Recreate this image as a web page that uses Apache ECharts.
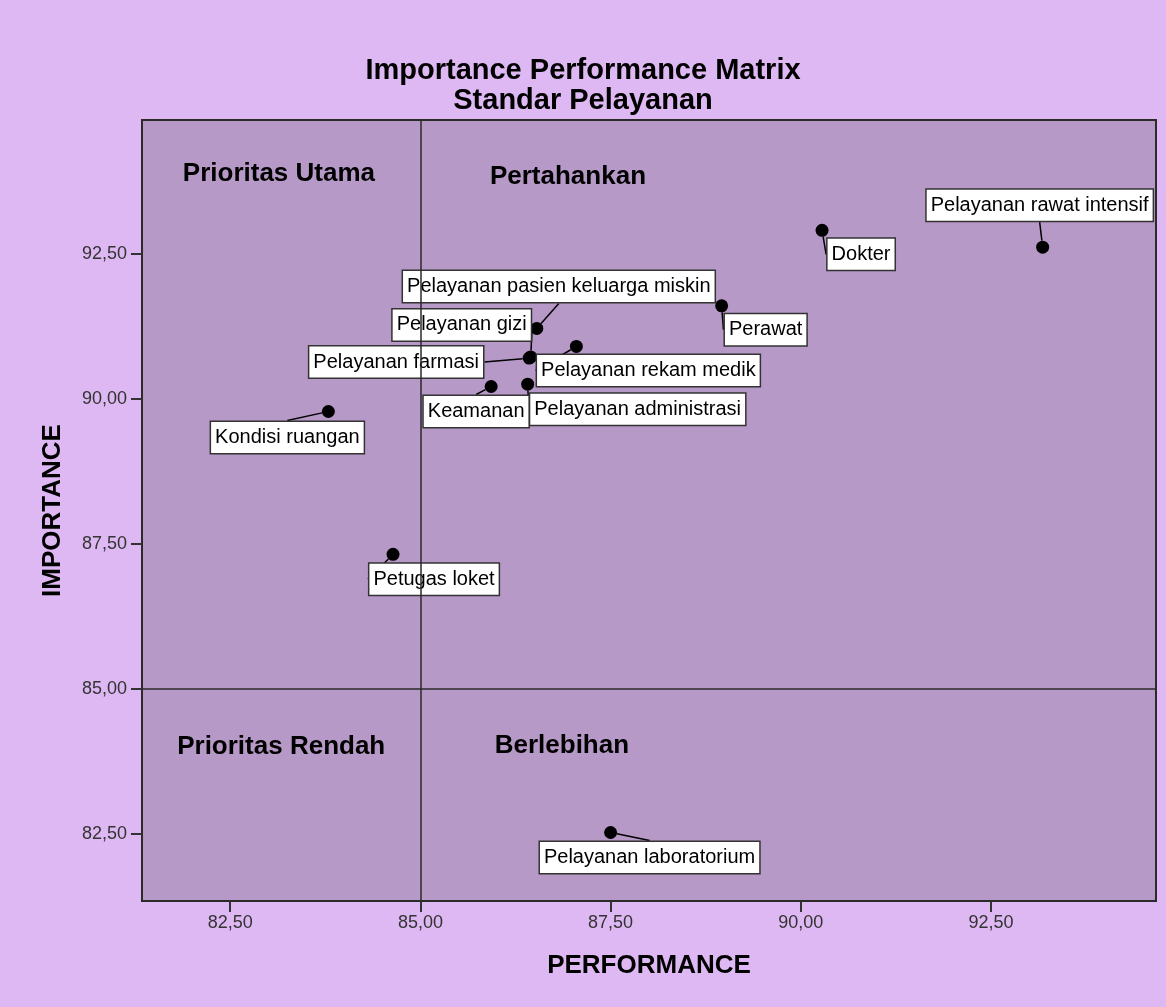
<!DOCTYPE html>
<html>
<head>
<meta charset="utf-8">
<title>Importance Performance Matrix</title>
<script src="https://cdn.jsdelivr.net/npm/echarts/dist/echarts.min.js"></script>
<style>
  html, body { margin: 0; padding: 0; background: #ffffff; }
  #main { width: 1166px; height: 1007px; }
</style>
</head>
<body>
<div id="main"></div>
<script>
// indikator pelayanan (nama, performance, importance)
var itemNames = [
    'Pelayanan rawat intensif',
    'Dokter',
    'Perawat',
    'Pelayanan pasien keluarga miskin',
    'Pelayanan gizi',
    'Pelayanan farmasi',
    'Pelayanan rekam medik',
    'Keamanan',
    'Pelayanan administrasi',
    'Kondisi ruangan',
    'Petugas loket',
    'Pelayanan laboratorium'
];
var performance = [93.18, 90.28, 88.96, 86.53, 86.45, 86.43, 87.05, 85.93, 86.41, 83.79, 84.64, 87.50];
var importance  = [92.61, 92.90, 91.60, 91.21, 90.72, 90.70, 90.90, 90.21, 90.25, 89.78, 87.32, 82.53];

// label kuadran
var quadrantNames = ['Prioritas Utama', 'Pertahankan', 'Prioritas Rendah', 'Berlebihan'];
var quadrantX = [83.14, 86.94, 83.17, 86.86];
var quadrantY = [93.87, 93.82, 84.00, 84.02];

// garis batas kuadran dan tick sumbu
var cutX = 85;
var cutY = 85;
var xTicks = [82.5, 85, 87.5, 90, 92.5];
var yTicks = [82.5, 85, 87.5, 90, 92.5];

// geser label (pixel) supaya tidak tumpang tindih
var labelOffsets = [
    [-3, -42], [39, 24], [44, 24], [22, -42], [-69, -32], [-133, 4],
    [72, 24], [-15, 25], [110, 25], [-41, 26], [41, 25], [39, 25]
];

var myChart = echarts.init(document.getElementById('main'));

var fmt = function (v) {
    return v.toFixed(2).replace('.', ',');
};

var pointData = itemNames.map(function (n, i) {
    return { name: n, value: [performance[i], importance[i]] };
});
var quadData = quadrantNames.map(function (n, i) {
    return { name: n, value: [quadrantX[i], quadrantY[i]] };
});

var font = 'Liberation Sans, Arial, sans-serif';

var option = {
    backgroundColor: '#DEB8F2',
    animation: false,
    title: {
        text: 'Importance Performance Matrix\nStandar Pelayanan',
        left: 'center',
        top: 51,
        textStyle: {
            fontFamily: font,
            fontSize: 29,
            fontWeight: 'bold',
            lineHeight: 30,
            color: '#000'
        }
    },
    grid: {
        left: 142,
        right: 10,
        top: 120,
        bottom: 106,
        show: true,
        backgroundColor: '#B799C7',
        borderColor: '#2a2a2a',
        borderWidth: 2
    },
    xAxis: {
        type: 'value',
        min: 81.34,
        max: 94.67,
        name: 'PERFORMANCE',
        nameLocation: 'middle',
        nameGap: 52,
        nameTextStyle: { fontFamily: font, fontSize: 26, fontWeight: 'bold', color: '#000' },
        splitLine: { show: false },
        axisLine: { show: false },
        axisTick: { show: true, length: 11, customValues: xTicks, lineStyle: { color: '#333', width: 2 } },
        axisLabel: {
            customValues: xTicks,
            margin: 13,
            fontFamily: font,
            fontSize: 18,
            color: '#333',
            formatter: fmt
        }
    },
    yAxis: {
        type: 'value',
        min: 81.35,
        max: 94.80,
        name: 'IMPORTANCE',
        nameLocation: 'middle',
        nameGap: 76,
        nameTextStyle: { fontFamily: font, fontSize: 26, fontWeight: 'bold', color: '#000' },
        splitLine: { show: false },
        axisLine: { show: false },
        axisTick: { show: true, length: 11, customValues: yTicks, lineStyle: { color: '#333', width: 2 } },
        axisLabel: {
            customValues: yTicks,
            margin: 15,
            fontFamily: font,
            fontSize: 18,
            color: '#333',
            formatter: fmt
        }
    },
    series: [
        {
            name: 'Kuadran',
            type: 'scatter',
            symbolSize: 0,
            silent: true,
            z: 1,
            itemStyle: { opacity: 1 },
            label: {
                show: true,
                position: 'inside',
                formatter: '{b}',
                fontFamily: font,
                fontSize: 26,
                fontWeight: 'bold',
                color: '#000'
            },
            data: quadData
        },
        {
            name: 'Indikator',
            type: 'scatter',
            symbolSize: 13,
            z: 3,
            itemStyle: { color: '#000', opacity: 1 },
            label: {
                show: true,
                position: 'inside',
                formatter: '{b}',
                fontFamily: font,
                fontSize: 20,
                color: '#000',
                backgroundColor: '#fff',
                borderColor: '#333',
                borderWidth: 1.5,
                padding: [6, 4, 5, 4]
            },
            labelLine: {
                show: true,
                lineStyle: { color: '#000', width: 1.5 }
            },
            labelLayout: function (params) {
                var o = labelOffsets[params.dataIndex];
                return { dx: o[0], dy: o[1] };
            },
            markLine: {
                silent: true,
                symbol: 'none',
                label: { show: false },
                lineStyle: { color: '#2a2a2a', width: 1.5, type: 'solid' },
                data: [{ xAxis: cutX }, { yAxis: cutY }]
            },
            data: pointData
        }
    ]
};

myChart.setOption(option);
</script>
</body>
</html>
